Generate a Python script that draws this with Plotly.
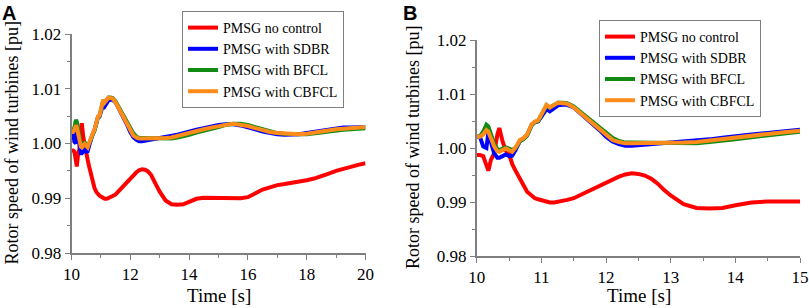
import plotly.graph_objects as go

# ---------------- data ----------------
time_s = [10.0, 10.05, 10.1, 10.15, 10.18, 10.22, 10.27, 10.32, 10.35, 10.4, 10.45, 10.5,
          10.55, 10.6, 10.67, 10.72, 10.78, 10.85, 10.9, 10.95, 11.0, 11.05, 11.08, 11.13,
          11.2, 11.26, 11.33, 11.4, 11.5, 11.6, 11.7, 11.8, 11.9, 12.0, 12.1, 12.2, 12.3,
          12.4, 12.5, 12.6, 12.7, 12.8, 12.9, 13.0, 13.2, 13.4, 13.6, 13.8, 14.0, 14.25,
          14.5, 14.75, 15.0, 15.25, 15.5, 15.75, 16.0, 16.25, 16.5, 16.75, 17.0, 17.25,
          17.5, 17.75, 18.0, 18.25, 18.5, 18.75, 19.0, 19.25, 19.5, 19.75, 20.0]

no_control = [0.9987, 0.9987, 0.9985, 0.9968, 0.9958, 0.9978, 0.9990, 1.0025, 1.0037, 1.0012,
              0.9995, 0.9989, 0.9970, 0.9958, 0.9941, 0.9932, 0.9919, 0.9911, 0.9907, 0.9905,
              0.9903, 0.9901, 0.9900, 0.9899, 0.9899, 0.9900, 0.9902, 0.9904, 0.9907, 0.9913,
              0.9919, 0.9925, 0.9931, 0.9937, 0.9942, 0.9947, 0.9951, 0.9953, 0.9952, 0.9949,
              0.9943, 0.9934, 0.9922, 0.9912, 0.9896, 0.9889, 0.9888, 0.9889, 0.9894, 0.9899,
              0.9901, 0.9901, 0.9901, 0.9901, 0.9900, 0.9900, 0.9902, 0.9910, 0.9916, 0.9920,
              0.9924, 0.9926, 0.9928, 0.9931, 0.9933, 0.9936, 0.9940, 0.9945, 0.9950, 0.9954,
              0.9958, 0.9961, 0.9964]

with_sdbr = [1.0021, 1.0021, 1.0003, 1.0000, 1.0028, 1.0012, 0.9990, 0.9982, 0.9982, 0.9985,
             0.9988, 0.9985, 0.9986, 0.9996, 1.0013, 1.0017, 1.0024, 1.0043, 1.0048, 1.0049,
             1.0058, 1.0068, 1.0072, 1.0068, 1.0074, 1.0079, 1.0080, 1.0080, 1.0075, 1.0065,
             1.0054, 1.0043, 1.0033, 1.0021, 1.0012, 1.0007, 1.0004, 1.0004, 1.0005, 1.0006,
             1.0007, 1.0008, 1.0009, 1.0009, 1.0011, 1.0013, 1.0016, 1.0019, 1.0021, 1.0025,
             1.0028, 1.0031, 1.0034, 1.0035, 1.0035, 1.0033, 1.0030, 1.0026, 1.0022, 1.0019,
             1.0017, 1.0016, 1.0016, 1.0017, 1.0019, 1.0021, 1.0024, 1.0026, 1.0028, 1.0029,
             1.0029, 1.0030, 1.0030]

with_bfcl = [1.0021, 1.0022, 1.0030, 1.0043, 1.0040, 1.0025, 1.0008, 0.9998, 0.9996, 0.9999,
             1.0001, 0.9999, 0.9996, 1.0000, 1.0013, 1.0016, 1.0023, 1.0042, 1.0048, 1.0050,
             1.0061, 1.0074, 1.0079, 1.0075, 1.0080, 1.0084, 1.0084, 1.0083, 1.0077, 1.0067,
             1.0057, 1.0047, 1.0038, 1.0028, 1.0019, 1.0013, 1.0010, 1.0010, 1.0010, 1.0009,
             1.0009, 1.0009, 1.0009, 1.0009, 1.0009, 1.0009, 1.0011, 1.0013, 1.0016, 1.0020,
             1.0023, 1.0026, 1.0030, 1.0034, 1.0036, 1.0036, 1.0034, 1.0030, 1.0026, 1.0022,
             1.0019, 1.0018, 1.0017, 1.0017, 1.0017, 1.0018, 1.0020, 1.0022, 1.0024, 1.0025,
             1.0026, 1.0027, 1.0028]

with_cbfcl = [1.0021, 1.0021, 1.0025, 1.0033, 1.0030, 1.0018, 1.0003, 0.9994, 0.9993, 0.9996,
              0.9999, 0.9996, 0.9993, 1.0001, 1.0015, 1.0018, 1.0025, 1.0044, 1.0049, 1.0051,
              1.0062, 1.0075, 1.0080, 1.0075, 1.0080, 1.0084, 1.0083, 1.0082, 1.0075, 1.0065,
              1.0054, 1.0044, 1.0035, 1.0024, 1.0015, 1.0011, 1.0009, 1.0009, 1.0009, 1.0009,
              1.0009, 1.0009, 1.0009, 1.0009, 1.0010, 1.0011, 1.0014, 1.0017, 1.0019, 1.0023,
              1.0026, 1.0029, 1.0032, 1.0034, 1.0036, 1.0034, 1.0032, 1.0028, 1.0024, 1.0021,
              1.0019, 1.0018, 1.0017, 1.0017, 1.0018, 1.0020, 1.0022, 1.0025, 1.0026, 1.0027,
              1.0028, 1.0029, 1.0030]

series_names = ["PMSG no control", "PMSG with SDBR", "PMSG with BFCL", "PMSG with CBFCL"]
series_values = [no_control, with_sdbr, with_bfcl, with_cbfcl]
series_colors = ["#ff0000", "#0000ff", "#138a13", "#ff8c1a"]

y_tickvals = [0.98, 0.99, 1.00, 1.01, 1.02]
y_ticktext = ["0.98", "0.99", "1.00", "1.01", "1.02"]
xA_tickvals = [10, 12, 14, 16, 18, 20]
xB_tickvals = [10, 11, 12, 13, 14, 15]

# ---------------- figure ----------------
SERIF = "Liberation Serif"
AXC = "#7f7f7f"

fig = go.Figure()

for name, vals, col in zip(series_names, series_values, series_colors):
    fig.add_trace(go.Scatter(x=time_s, y=vals, mode="lines", name=name,
                             line=dict(color=col, width=4),
                             xaxis="x", yaxis="y", legend="legend"))

tB = [t for t in time_s if t <= 15.0]
for name, vals, col in zip(series_names, series_values, series_colors):
    fig.add_trace(go.Scatter(x=tB, y=vals[:len(tB)], mode="lines", name=name,
                             line=dict(color=col, width=4),
                             xaxis="x2", yaxis="y2", legend="legend2"))

W, H = 809, 308


def px_x(p):
    return p / W


def px_y(p):
    return (H - p) / H


axis_common = dict(showline=True, linecolor=AXC, linewidth=1.5, ticks="outside",
                   ticklen=5, tickwidth=1.2, tickcolor=AXC, showgrid=False, zeroline=False,
                   automargin=False,
                   tickfont=dict(family=SERIF, size=17, color="black"), mirror=False)

legend_common = dict(xanchor="left", yanchor="top", bordercolor=AXC, borderwidth=1,
                     bgcolor="white", font=dict(family=SERIF, size=14, color="black"),
                     tracegroupgap=0, itemwidth=30)

fig.update_layout(
    template="none",
    width=W, height=H,
    margin=dict(l=0, r=0, t=0, b=0, pad=0, autoexpand=False),
    paper_bgcolor="white", plot_bgcolor="white",
    showlegend=True,
    font=dict(family=SERIF, color="black"),
    xaxis=dict(domain=[px_x(71.5), px_x(365.5)], range=[10, 20], tickvals=xA_tickvals,
               anchor="y", minor=dict(dtick=1, ticks="outside", ticklen=3, tickcolor=AXC),
               **axis_common),
    yaxis=dict(domain=[px_y(253), px_y(34)], range=[0.98, 1.02], tickvals=y_tickvals,
               ticktext=y_ticktext, anchor="x",
               minor=dict(dtick=0.005, tick0=0.98, ticks="outside", ticklen=3, tickcolor=AXC),
               **axis_common),
    xaxis2=dict(domain=[px_x(476.7), px_x(800)], range=[10, 15], tickvals=xB_tickvals,
                anchor="y2", minor=dict(dtick=0.5, ticks="outside", ticklen=3, tickcolor=AXC),
                **axis_common),
    yaxis2=dict(domain=[px_y(256), px_y(40)], range=[0.98, 1.02], tickvals=y_tickvals,
                ticktext=y_ticktext, anchor="x2",
                minor=dict(dtick=0.005, tick0=0.98, ticks="outside", ticklen=3, tickcolor=AXC),
                **axis_common),
    legend=dict(x=px_x(182), y=px_y(11), **legend_common),
    legend2=dict(x=px_x(599), y=px_y(20), **legend_common),
    hovermode=False,
)

ann = []
# panel letters
ann.append(dict(text="<b>A</b>", x=px_x(0), y=px_y(0), xref="paper", yref="paper",
                xanchor="left", yanchor="top", showarrow=False,
                font=dict(family="Liberation Sans", size=20, color="black")))
ann.append(dict(text="<b>B</b>", x=px_x(401), y=px_y(0), xref="paper", yref="paper",
                xanchor="left", yanchor="top", showarrow=False,
                font=dict(family="Liberation Sans", size=20, color="black")))
# axis titles
for cx, cy in [(218.5, 295), (638.5, 295)]:
    ann.append(dict(text="Time [s]", x=px_x(cx), y=px_y(cy), xref="paper", yref="paper",
                    xanchor="center", yanchor="middle", showarrow=False,
                    font=dict(family=SERIF, size=19, color="black")))
for cx, cy in [(11, 143.5), (413, 147)]:
    ann.append(dict(text="Rotor speed of wind turbines [pu]", x=px_x(cx), y=px_y(cy),
                    xref="paper", yref="paper", xanchor="center", yanchor="middle",
                    textangle=-90, showarrow=False,
                    font=dict(family=SERIF, size=18, color="black")))
fig.update_layout(annotations=ann)

fig.write_html("out.html", config={"displayModeBar": False},
               post_script="document.body.style.margin='0';document.body.style.overflow='hidden';")
